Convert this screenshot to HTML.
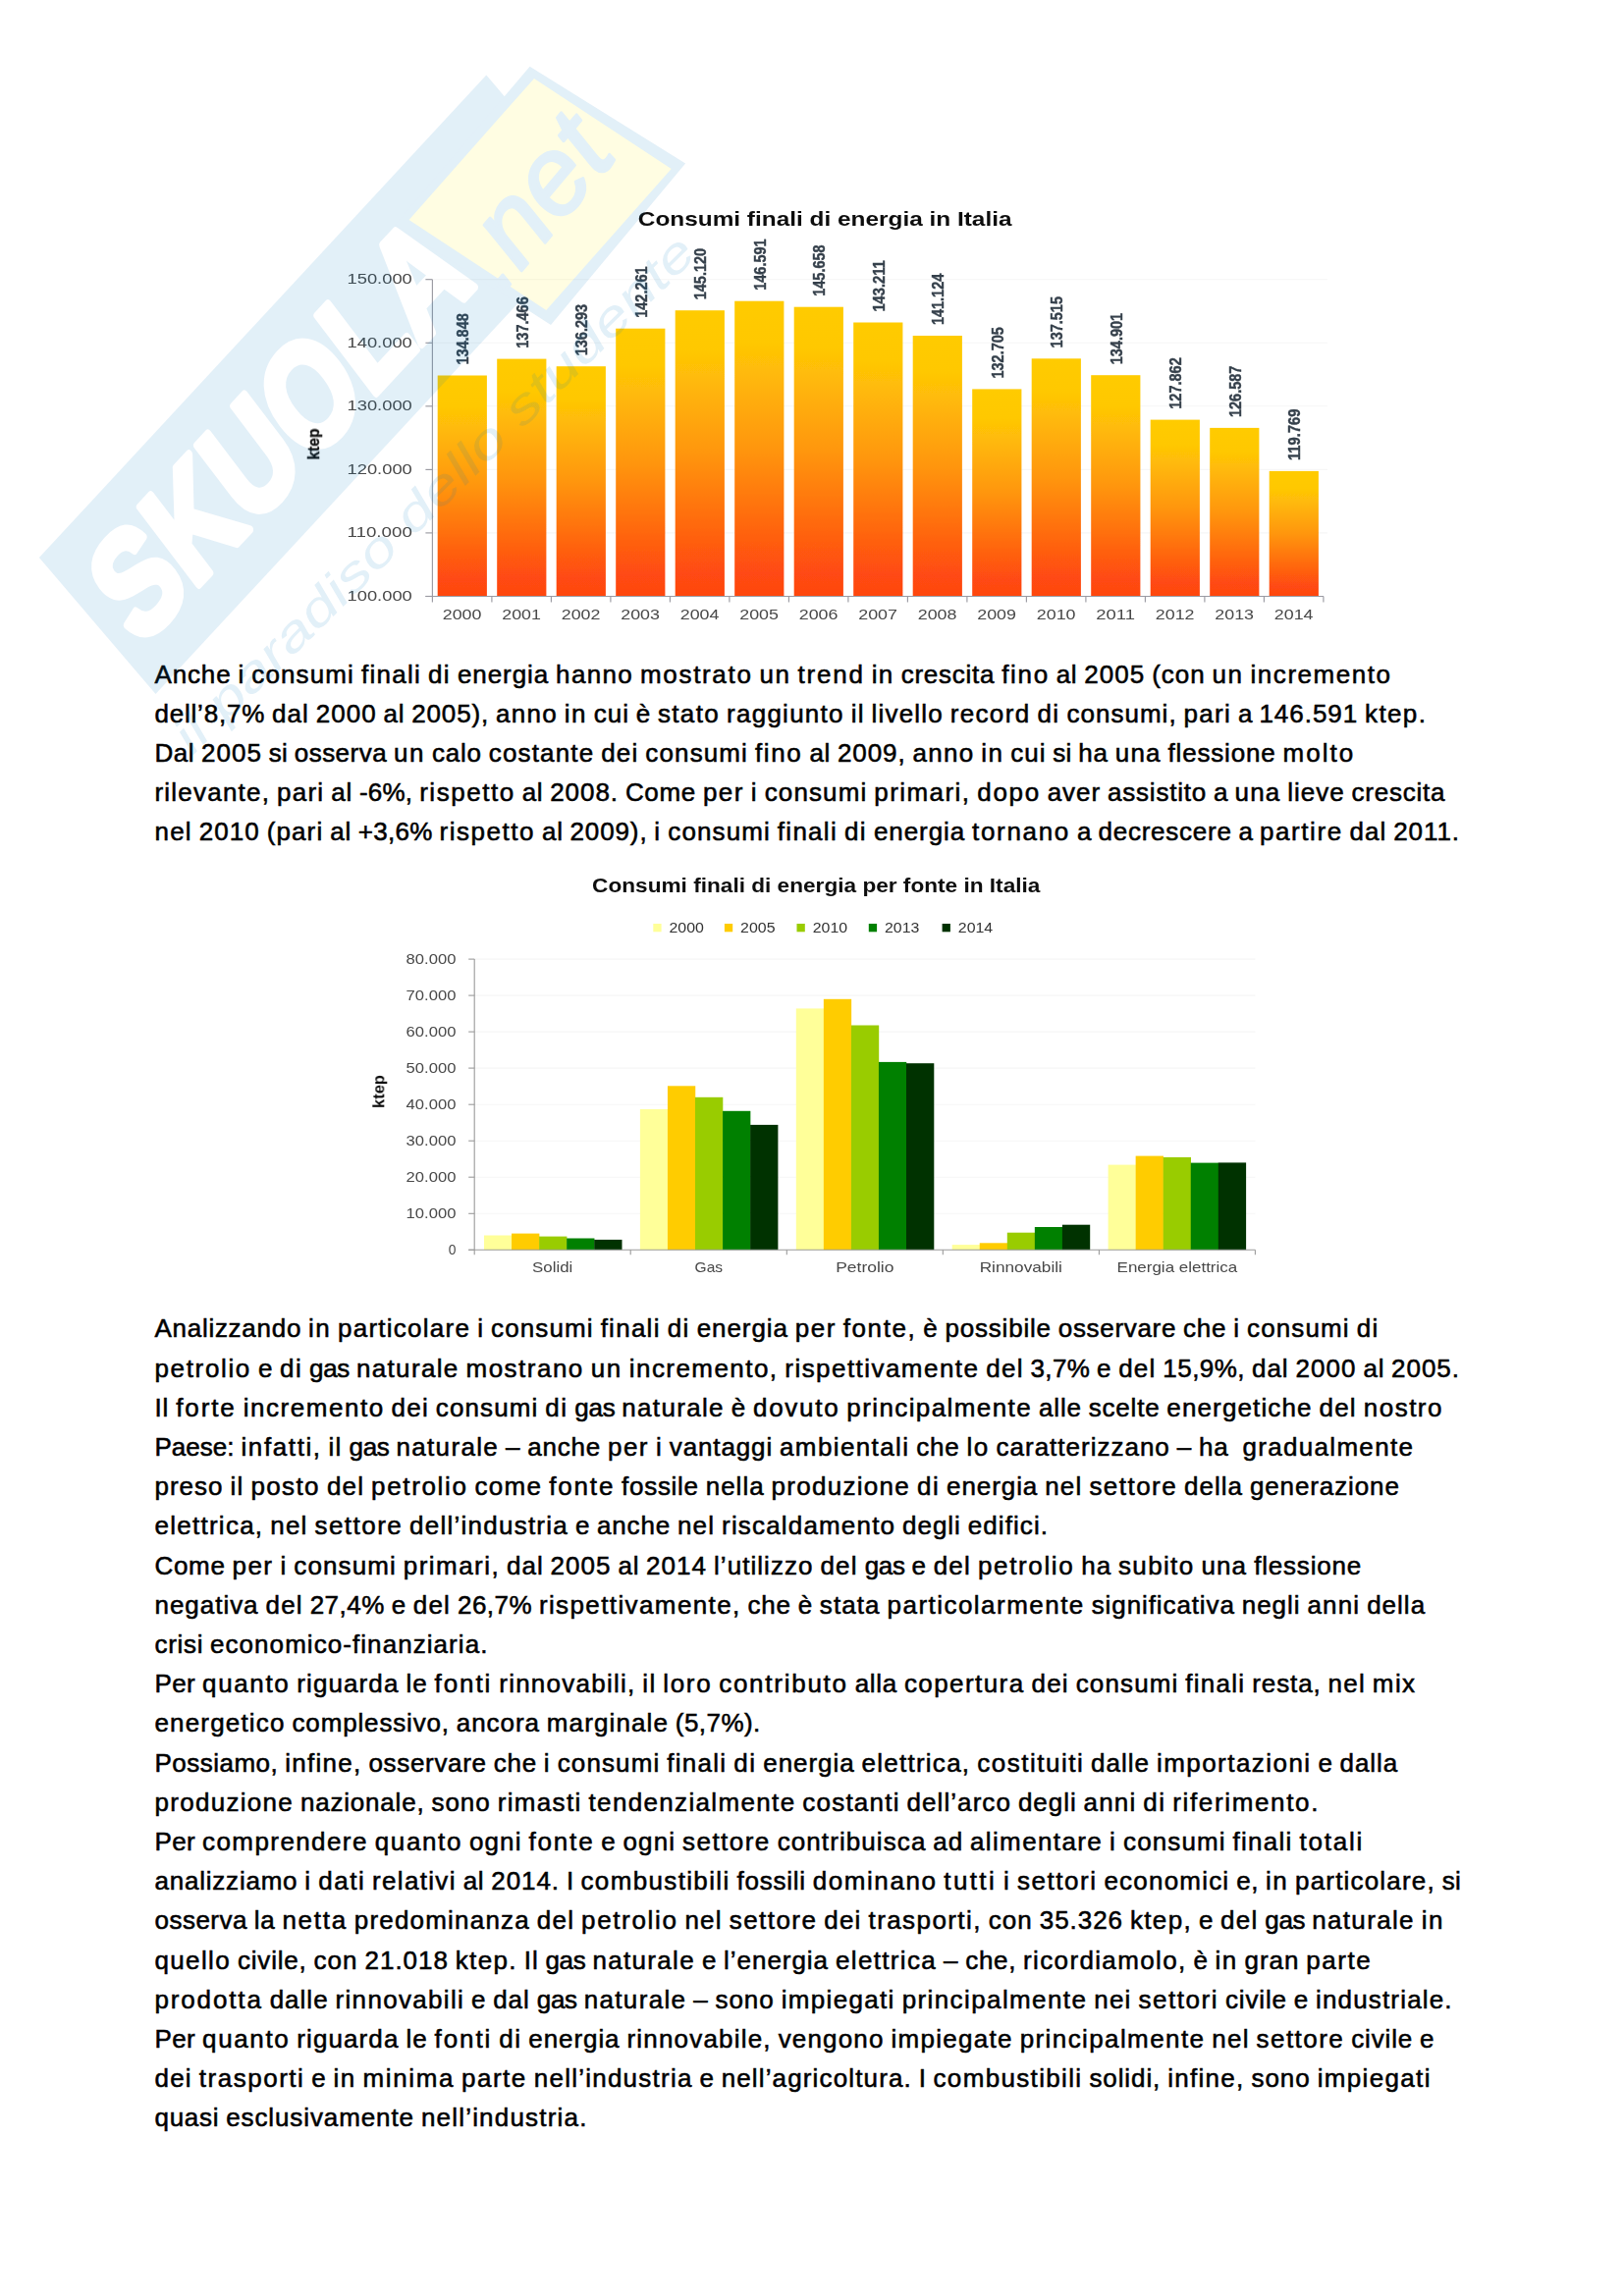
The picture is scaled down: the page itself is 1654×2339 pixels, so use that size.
<!DOCTYPE html>
<html lang="it">
<head>
<meta charset="utf-8">
<title>Consumi finali di energia in Italia</title>
<style>
html,body{margin:0;padding:0;background:#fff;}
body{width:1654px;height:2339px;position:relative;overflow:hidden;font-family:'Liberation Sans', sans-serif;}
.ln{position:absolute;left:157.1px;white-space:pre;font-size:26.0px;line-height:32.0px;height:32.0px;color:#000;word-spacing:-0.308px;-webkit-text-stroke:0.55px #000;}
.ln span{display:inline-block;text-indent:0.4px;}
svg{position:absolute;left:0;top:0;}
svg text{font-family:'Liberation Sans', sans-serif;}
</style>
</head>
<body>
<svg width="1654" height="2339" viewBox="0 0 1654 2339">
<defs>
<linearGradient id="gb" x1="0" y1="0" x2="0" y2="1">
<stop offset="0" stop-color="#ffcb05"/>
<stop offset="0.14" stop-color="#ffc805"/>
<stop offset="0.5" stop-color="#ff960e"/>
<stop offset="0.92" stop-color="#ff4a12"/>
<stop offset="1" stop-color="#ff4610"/>
</linearGradient>
<filter id="soft" x="-2%" y="-2%" width="104%" height="104%"><feGaussianBlur stdDeviation="0.7"/></filter>
</defs>
<g id="chart1" filter="url(#soft)">
<line x1="440.4" y1="542.9" x2="1352" y2="542.9" stroke="#f6f6f6" stroke-width="1.1"/>
<line x1="440.4" y1="478.4" x2="1352" y2="478.4" stroke="#f6f6f6" stroke-width="1.1"/>
<line x1="440.4" y1="413.8" x2="1352" y2="413.8" stroke="#f6f6f6" stroke-width="1.1"/>
<line x1="440.4" y1="349.3" x2="1352" y2="349.3" stroke="#f6f6f6" stroke-width="1.1"/>
<line x1="440.4" y1="284.7" x2="1352" y2="284.7" stroke="#f6f6f6" stroke-width="1.1"/>
<rect x="445.7" y="382.5" width="50.2" height="225.0" fill="url(#gb)"/>
<rect x="506.2" y="365.6" width="50.2" height="241.9" fill="url(#gb)"/>
<rect x="566.7" y="373.2" width="50.2" height="234.3" fill="url(#gb)"/>
<rect x="627.2" y="334.7" width="50.2" height="272.8" fill="url(#gb)"/>
<rect x="687.7" y="316.2" width="50.2" height="291.3" fill="url(#gb)"/>
<rect x="748.2" y="306.7" width="50.2" height="300.8" fill="url(#gb)"/>
<rect x="808.7" y="312.7" width="50.2" height="294.8" fill="url(#gb)"/>
<rect x="869.2" y="328.5" width="50.2" height="279.0" fill="url(#gb)"/>
<rect x="929.7" y="342.0" width="50.2" height="265.5" fill="url(#gb)"/>
<rect x="990.2" y="396.4" width="50.2" height="211.1" fill="url(#gb)"/>
<rect x="1050.7" y="365.3" width="50.2" height="242.2" fill="url(#gb)"/>
<rect x="1111.2" y="382.2" width="50.2" height="225.3" fill="url(#gb)"/>
<rect x="1171.7" y="427.6" width="50.2" height="179.9" fill="url(#gb)"/>
<rect x="1232.2" y="435.9" width="50.2" height="171.6" fill="url(#gb)"/>
<rect x="1292.7" y="479.9" width="50.2" height="127.6" fill="url(#gb)"/>
<line x1="440.4" y1="284.7" x2="440.4" y2="613.5" stroke="#9a9aa2" stroke-width="1.15"/>
<line x1="433.4" y1="607.5" x2="1348" y2="607.5" stroke="#9a9aa2" stroke-width="1.15"/>
<line x1="433.4" y1="607.5" x2="440.4" y2="607.5" stroke="#9a9aa2" stroke-width="1.15"/>
<text x="419.8" y="611.8" text-anchor="end" font-size="15" fill="#484848" textLength="66.3" lengthAdjust="spacingAndGlyphs">100.000</text>
<line x1="433.4" y1="542.9" x2="440.4" y2="542.9" stroke="#9a9aa2" stroke-width="1.15"/>
<text x="419.8" y="547.2" text-anchor="end" font-size="15" fill="#484848" textLength="66.3" lengthAdjust="spacingAndGlyphs">110.000</text>
<line x1="433.4" y1="478.4" x2="440.4" y2="478.4" stroke="#9a9aa2" stroke-width="1.15"/>
<text x="419.8" y="482.7" text-anchor="end" font-size="15" fill="#484848" textLength="66.3" lengthAdjust="spacingAndGlyphs">120.000</text>
<line x1="433.4" y1="413.8" x2="440.4" y2="413.8" stroke="#9a9aa2" stroke-width="1.15"/>
<text x="419.8" y="418.1" text-anchor="end" font-size="15" fill="#484848" textLength="66.3" lengthAdjust="spacingAndGlyphs">130.000</text>
<line x1="433.4" y1="349.3" x2="440.4" y2="349.3" stroke="#9a9aa2" stroke-width="1.15"/>
<text x="419.8" y="353.6" text-anchor="end" font-size="15" fill="#484848" textLength="66.3" lengthAdjust="spacingAndGlyphs">140.000</text>
<line x1="433.4" y1="284.7" x2="440.4" y2="284.7" stroke="#9a9aa2" stroke-width="1.15"/>
<text x="419.8" y="289.0" text-anchor="end" font-size="15" fill="#484848" textLength="66.3" lengthAdjust="spacingAndGlyphs">150.000</text>
<line x1="500.9" y1="607.5" x2="500.9" y2="613.5" stroke="#9a9aa2" stroke-width="1.15"/>
<line x1="561.4" y1="607.5" x2="561.4" y2="613.5" stroke="#9a9aa2" stroke-width="1.15"/>
<line x1="621.9" y1="607.5" x2="621.9" y2="613.5" stroke="#9a9aa2" stroke-width="1.15"/>
<line x1="682.4" y1="607.5" x2="682.4" y2="613.5" stroke="#9a9aa2" stroke-width="1.15"/>
<line x1="742.9" y1="607.5" x2="742.9" y2="613.5" stroke="#9a9aa2" stroke-width="1.15"/>
<line x1="803.4" y1="607.5" x2="803.4" y2="613.5" stroke="#9a9aa2" stroke-width="1.15"/>
<line x1="863.9" y1="607.5" x2="863.9" y2="613.5" stroke="#9a9aa2" stroke-width="1.15"/>
<line x1="924.4" y1="607.5" x2="924.4" y2="613.5" stroke="#9a9aa2" stroke-width="1.15"/>
<line x1="984.9" y1="607.5" x2="984.9" y2="613.5" stroke="#9a9aa2" stroke-width="1.15"/>
<line x1="1045.4" y1="607.5" x2="1045.4" y2="613.5" stroke="#9a9aa2" stroke-width="1.15"/>
<line x1="1105.9" y1="607.5" x2="1105.9" y2="613.5" stroke="#9a9aa2" stroke-width="1.15"/>
<line x1="1166.4" y1="607.5" x2="1166.4" y2="613.5" stroke="#9a9aa2" stroke-width="1.15"/>
<line x1="1226.9" y1="607.5" x2="1226.9" y2="613.5" stroke="#9a9aa2" stroke-width="1.15"/>
<line x1="1287.4" y1="607.5" x2="1287.4" y2="613.5" stroke="#9a9aa2" stroke-width="1.15"/>
<line x1="1347.9" y1="607.5" x2="1347.9" y2="613.5" stroke="#9a9aa2" stroke-width="1.15"/>
<text x="470.6" y="631.3" text-anchor="middle" font-size="14.6" fill="#484848" textLength="39.7" lengthAdjust="spacingAndGlyphs">2000</text>
<text x="531.1" y="631.3" text-anchor="middle" font-size="14.6" fill="#484848" textLength="39.7" lengthAdjust="spacingAndGlyphs">2001</text>
<text x="591.6" y="631.3" text-anchor="middle" font-size="14.6" fill="#484848" textLength="39.7" lengthAdjust="spacingAndGlyphs">2002</text>
<text x="652.1" y="631.3" text-anchor="middle" font-size="14.6" fill="#484848" textLength="39.7" lengthAdjust="spacingAndGlyphs">2003</text>
<text x="712.6" y="631.3" text-anchor="middle" font-size="14.6" fill="#484848" textLength="39.7" lengthAdjust="spacingAndGlyphs">2004</text>
<text x="773.1" y="631.3" text-anchor="middle" font-size="14.6" fill="#484848" textLength="39.7" lengthAdjust="spacingAndGlyphs">2005</text>
<text x="833.6" y="631.3" text-anchor="middle" font-size="14.6" fill="#484848" textLength="39.7" lengthAdjust="spacingAndGlyphs">2006</text>
<text x="894.1" y="631.3" text-anchor="middle" font-size="14.6" fill="#484848" textLength="39.7" lengthAdjust="spacingAndGlyphs">2007</text>
<text x="954.6" y="631.3" text-anchor="middle" font-size="14.6" fill="#484848" textLength="39.7" lengthAdjust="spacingAndGlyphs">2008</text>
<text x="1015.1" y="631.3" text-anchor="middle" font-size="14.6" fill="#484848" textLength="39.7" lengthAdjust="spacingAndGlyphs">2009</text>
<text x="1075.7" y="631.3" text-anchor="middle" font-size="14.6" fill="#484848" textLength="39.7" lengthAdjust="spacingAndGlyphs">2010</text>
<text x="1136.2" y="631.3" text-anchor="middle" font-size="14.6" fill="#484848" textLength="39.7" lengthAdjust="spacingAndGlyphs">2011</text>
<text x="1196.7" y="631.3" text-anchor="middle" font-size="14.6" fill="#484848" textLength="39.7" lengthAdjust="spacingAndGlyphs">2012</text>
<text x="1257.2" y="631.3" text-anchor="middle" font-size="14.6" fill="#484848" textLength="39.7" lengthAdjust="spacingAndGlyphs">2013</text>
<text x="1317.7" y="631.3" text-anchor="middle" font-size="14.6" fill="#484848" textLength="39.7" lengthAdjust="spacingAndGlyphs">2014</text>
<text transform="translate(477.2,371.6) scale(1.18,1) rotate(-90)" font-size="14.2" font-weight="bold" fill="#36414c" stroke="#36414c" stroke-width="0.35" textLength="52.4" lengthAdjust="spacingAndGlyphs">134.848</text>
<text transform="translate(537.7,354.7) scale(1.18,1) rotate(-90)" font-size="14.2" font-weight="bold" fill="#36414c" stroke="#36414c" stroke-width="0.35" textLength="52.4" lengthAdjust="spacingAndGlyphs">137.466</text>
<text transform="translate(598.2,362.3) scale(1.18,1) rotate(-90)" font-size="14.2" font-weight="bold" fill="#36414c" stroke="#36414c" stroke-width="0.35" textLength="52.4" lengthAdjust="spacingAndGlyphs">136.293</text>
<text transform="translate(658.7,323.8) scale(1.18,1) rotate(-90)" font-size="14.2" font-weight="bold" fill="#36414c" stroke="#36414c" stroke-width="0.35" textLength="52.4" lengthAdjust="spacingAndGlyphs">142.261</text>
<text transform="translate(719.2,305.3) scale(1.18,1) rotate(-90)" font-size="14.2" font-weight="bold" fill="#36414c" stroke="#36414c" stroke-width="0.35" textLength="52.4" lengthAdjust="spacingAndGlyphs">145.120</text>
<text transform="translate(779.7,295.8) scale(1.18,1) rotate(-90)" font-size="14.2" font-weight="bold" fill="#36414c" stroke="#36414c" stroke-width="0.35" textLength="52.4" lengthAdjust="spacingAndGlyphs">146.591</text>
<text transform="translate(840.2,301.8) scale(1.18,1) rotate(-90)" font-size="14.2" font-weight="bold" fill="#36414c" stroke="#36414c" stroke-width="0.35" textLength="52.4" lengthAdjust="spacingAndGlyphs">145.658</text>
<text transform="translate(900.7,317.6) scale(1.18,1) rotate(-90)" font-size="14.2" font-weight="bold" fill="#36414c" stroke="#36414c" stroke-width="0.35" textLength="52.4" lengthAdjust="spacingAndGlyphs">143.211</text>
<text transform="translate(961.2,331.1) scale(1.18,1) rotate(-90)" font-size="14.2" font-weight="bold" fill="#36414c" stroke="#36414c" stroke-width="0.35" textLength="52.4" lengthAdjust="spacingAndGlyphs">141.124</text>
<text transform="translate(1021.7,385.5) scale(1.18,1) rotate(-90)" font-size="14.2" font-weight="bold" fill="#36414c" stroke="#36414c" stroke-width="0.35" textLength="52.4" lengthAdjust="spacingAndGlyphs">132.705</text>
<text transform="translate(1082.2,354.4) scale(1.18,1) rotate(-90)" font-size="14.2" font-weight="bold" fill="#36414c" stroke="#36414c" stroke-width="0.35" textLength="52.4" lengthAdjust="spacingAndGlyphs">137.515</text>
<text transform="translate(1142.7,371.3) scale(1.18,1) rotate(-90)" font-size="14.2" font-weight="bold" fill="#36414c" stroke="#36414c" stroke-width="0.35" textLength="52.4" lengthAdjust="spacingAndGlyphs">134.901</text>
<text transform="translate(1203.2,416.7) scale(1.18,1) rotate(-90)" font-size="14.2" font-weight="bold" fill="#36414c" stroke="#36414c" stroke-width="0.35" textLength="52.4" lengthAdjust="spacingAndGlyphs">127.862</text>
<text transform="translate(1263.7,425.0) scale(1.18,1) rotate(-90)" font-size="14.2" font-weight="bold" fill="#36414c" stroke="#36414c" stroke-width="0.35" textLength="52.4" lengthAdjust="spacingAndGlyphs">126.587</text>
<text transform="translate(1324.2,469.0) scale(1.18,1) rotate(-90)" font-size="14.2" font-weight="bold" fill="#36414c" stroke="#36414c" stroke-width="0.35" textLength="52.4" lengthAdjust="spacingAndGlyphs">119.769</text>
<text x="649.8" y="229.6" font-size="21" font-weight="bold" fill="#111" textLength="380.7" lengthAdjust="spacingAndGlyphs">Consumi finali di energia in Italia</text>
<text transform="translate(325.2,468.5) scale(1.08,1) rotate(-90)" font-size="15.5" font-weight="bold" fill="#111" stroke="#111" stroke-width="0.3">ktep</text>
</g>
<g id="chart2" filter="url(#soft)">
<line x1="483.2" y1="1236.3" x2="1278.4" y2="1236.3" stroke="#f6f6f6" stroke-width="1.1"/>
<line x1="483.2" y1="1199.2" x2="1278.4" y2="1199.2" stroke="#f6f6f6" stroke-width="1.1"/>
<line x1="483.2" y1="1162.2" x2="1278.4" y2="1162.2" stroke="#f6f6f6" stroke-width="1.1"/>
<line x1="483.2" y1="1125.2" x2="1278.4" y2="1125.2" stroke="#f6f6f6" stroke-width="1.1"/>
<line x1="483.2" y1="1088.1" x2="1278.4" y2="1088.1" stroke="#f6f6f6" stroke-width="1.1"/>
<line x1="483.2" y1="1051.1" x2="1278.4" y2="1051.1" stroke="#f6f6f6" stroke-width="1.1"/>
<line x1="483.2" y1="1014.1" x2="1278.4" y2="1014.1" stroke="#f6f6f6" stroke-width="1.1"/>
<line x1="483.2" y1="977.1" x2="1278.4" y2="977.1" stroke="#f6f6f6" stroke-width="1.1"/>
<rect x="493.00" y="1258.5" width="28.3" height="14.8" fill="#ffff99"/>
<rect x="521.05" y="1256.6" width="28.3" height="16.7" fill="#ffcc00"/>
<rect x="549.10" y="1259.6" width="28.3" height="13.7" fill="#99cc00"/>
<rect x="577.15" y="1261.5" width="28.3" height="11.8" fill="#008000"/>
<rect x="605.20" y="1262.9" width="28.3" height="10.4" fill="#003300"/>
<rect x="651.90" y="1130.0" width="28.3" height="143.3" fill="#ffff99"/>
<rect x="679.95" y="1106.3" width="28.3" height="167.0" fill="#ffcc00"/>
<rect x="708.00" y="1117.8" width="28.3" height="155.5" fill="#99cc00"/>
<rect x="736.05" y="1131.8" width="28.3" height="141.5" fill="#008000"/>
<rect x="764.10" y="1145.9" width="28.3" height="127.4" fill="#003300"/>
<rect x="810.80" y="1027.4" width="28.3" height="245.9" fill="#ffff99"/>
<rect x="838.85" y="1017.8" width="28.3" height="255.5" fill="#ffcc00"/>
<rect x="866.90" y="1044.5" width="28.3" height="228.8" fill="#99cc00"/>
<rect x="894.95" y="1081.9" width="28.3" height="191.4" fill="#008000"/>
<rect x="923.00" y="1083.2" width="28.3" height="190.1" fill="#003300"/>
<rect x="969.70" y="1268.1" width="28.3" height="5.2" fill="#ffff99"/>
<rect x="997.75" y="1266.3" width="28.3" height="7.0" fill="#ffcc00"/>
<rect x="1025.80" y="1255.7" width="28.3" height="17.6" fill="#99cc00"/>
<rect x="1053.85" y="1250.0" width="28.3" height="23.3" fill="#008000"/>
<rect x="1081.90" y="1247.7" width="28.3" height="25.6" fill="#003300"/>
<rect x="1128.60" y="1186.6" width="28.3" height="86.7" fill="#ffff99"/>
<rect x="1156.65" y="1177.6" width="28.3" height="95.7" fill="#ffcc00"/>
<rect x="1184.70" y="1178.9" width="28.3" height="94.4" fill="#99cc00"/>
<rect x="1212.75" y="1184.6" width="28.3" height="88.7" fill="#008000"/>
<rect x="1240.80" y="1184.4" width="28.3" height="88.9" fill="#003300"/>
<line x1="483.2" y1="977.1" x2="483.2" y2="1278.3" stroke="#9a9a9a" stroke-width="1.1"/>
<line x1="477.2" y1="1273.3" x2="1278.4" y2="1273.3" stroke="#9a9a9a" stroke-width="1.1"/>
<line x1="477.2" y1="1273.3" x2="483.2" y2="1273.3" stroke="#9a9a9a" stroke-width="1.1"/>
<text x="464.4" y="1277.8" text-anchor="end" font-size="15" fill="#484848" textLength="7.7" lengthAdjust="spacingAndGlyphs">0</text>
<line x1="477.2" y1="1236.3" x2="483.2" y2="1236.3" stroke="#9a9a9a" stroke-width="1.1"/>
<text x="464.4" y="1240.8" text-anchor="end" font-size="15" fill="#484848" textLength="50.8" lengthAdjust="spacingAndGlyphs">10.000</text>
<line x1="477.2" y1="1199.2" x2="483.2" y2="1199.2" stroke="#9a9a9a" stroke-width="1.1"/>
<text x="464.4" y="1203.7" text-anchor="end" font-size="15" fill="#484848" textLength="50.8" lengthAdjust="spacingAndGlyphs">20.000</text>
<line x1="477.2" y1="1162.2" x2="483.2" y2="1162.2" stroke="#9a9a9a" stroke-width="1.1"/>
<text x="464.4" y="1166.7" text-anchor="end" font-size="15" fill="#484848" textLength="50.8" lengthAdjust="spacingAndGlyphs">30.000</text>
<line x1="477.2" y1="1125.2" x2="483.2" y2="1125.2" stroke="#9a9a9a" stroke-width="1.1"/>
<text x="464.4" y="1129.7" text-anchor="end" font-size="15" fill="#484848" textLength="50.8" lengthAdjust="spacingAndGlyphs">40.000</text>
<line x1="477.2" y1="1088.1" x2="483.2" y2="1088.1" stroke="#9a9a9a" stroke-width="1.1"/>
<text x="464.4" y="1092.6" text-anchor="end" font-size="15" fill="#484848" textLength="50.8" lengthAdjust="spacingAndGlyphs">50.000</text>
<line x1="477.2" y1="1051.1" x2="483.2" y2="1051.1" stroke="#9a9a9a" stroke-width="1.1"/>
<text x="464.4" y="1055.6" text-anchor="end" font-size="15" fill="#484848" textLength="50.8" lengthAdjust="spacingAndGlyphs">60.000</text>
<line x1="477.2" y1="1014.1" x2="483.2" y2="1014.1" stroke="#9a9a9a" stroke-width="1.1"/>
<text x="464.4" y="1018.6" text-anchor="end" font-size="15" fill="#484848" textLength="50.8" lengthAdjust="spacingAndGlyphs">70.000</text>
<line x1="477.2" y1="977.1" x2="483.2" y2="977.1" stroke="#9a9a9a" stroke-width="1.1"/>
<text x="464.4" y="981.6" text-anchor="end" font-size="15" fill="#484848" textLength="50.8" lengthAdjust="spacingAndGlyphs">80.000</text>
<line x1="642.2" y1="1273.3" x2="642.2" y2="1278.3" stroke="#9a9a9a" stroke-width="1.1"/>
<line x1="801.3" y1="1273.3" x2="801.3" y2="1278.3" stroke="#9a9a9a" stroke-width="1.1"/>
<line x1="960.3" y1="1273.3" x2="960.3" y2="1278.3" stroke="#9a9a9a" stroke-width="1.1"/>
<line x1="1119.4" y1="1273.3" x2="1119.4" y2="1278.3" stroke="#9a9a9a" stroke-width="1.1"/>
<line x1="1278.4" y1="1273.3" x2="1278.4" y2="1278.3" stroke="#9a9a9a" stroke-width="1.1"/>
<text x="562.7" y="1296.3" text-anchor="middle" font-size="15" fill="#484848" textLength="41.2" lengthAdjust="spacingAndGlyphs">Solidi</text>
<text x="721.8" y="1296.3" text-anchor="middle" font-size="15" fill="#484848" textLength="28.5" lengthAdjust="spacingAndGlyphs">Gas</text>
<text x="880.8" y="1296.3" text-anchor="middle" font-size="15" fill="#484848" textLength="59.2" lengthAdjust="spacingAndGlyphs">Petrolio</text>
<text x="1039.8" y="1296.3" text-anchor="middle" font-size="15" fill="#484848" textLength="84.2" lengthAdjust="spacingAndGlyphs">Rinnovabili</text>
<text x="1198.9" y="1296.3" text-anchor="middle" font-size="15" fill="#484848" textLength="122.6" lengthAdjust="spacingAndGlyphs">Energia elettrica</text>
<rect x="665.3" y="941" width="8.3" height="8.3" fill="#ffff99"/>
<text x="681.5" y="950.2" font-size="15" fill="#333" textLength="35.4" lengthAdjust="spacingAndGlyphs">2000</text>
<rect x="737.9" y="941" width="8.3" height="8.3" fill="#ffcc00"/>
<text x="754.1" y="950.2" font-size="15" fill="#333" textLength="35.4" lengthAdjust="spacingAndGlyphs">2005</text>
<rect x="811.5" y="941" width="8.3" height="8.3" fill="#99cc00"/>
<text x="827.7" y="950.2" font-size="15" fill="#333" textLength="35.4" lengthAdjust="spacingAndGlyphs">2010</text>
<rect x="884.8" y="941" width="8.3" height="8.3" fill="#008000"/>
<text x="901.0" y="950.2" font-size="15" fill="#333" textLength="35.4" lengthAdjust="spacingAndGlyphs">2013</text>
<rect x="959.6" y="941" width="8.3" height="8.3" fill="#003300"/>
<text x="975.8" y="950.2" font-size="15" fill="#333" textLength="35.4" lengthAdjust="spacingAndGlyphs">2014</text>
<text x="603.1" y="909.2" font-size="20" font-weight="bold" fill="#111" textLength="456.3" lengthAdjust="spacingAndGlyphs">Consumi finali di energia per fonte in Italia</text>
<text transform="translate(391.3,1129) rotate(-90)" font-size="16.5" font-weight="bold" fill="#111">ktep</text>
</g>
</svg>
<div id="text">
<div class="ln" style="top:670.89px"><span style="width:78.00px;letter-spacing:0.86px">Anche</span> <span style="width:7.02px;letter-spacing:1.24px">i</span> <span style="width:104.63px;letter-spacing:1.12px">consumi</span> <span style="width:61.12px;letter-spacing:1.27px">finali</span> <span style="width:23.09px;letter-spacing:1.43px">di</span> <span style="width:93.25px;letter-spacing:0.93px">energia</span> <span style="width:79.00px;letter-spacing:1.34px">hanno</span> <span style="width:114.47px;letter-spacing:1.67px">mostrato</span> <span style="width:32.14px;letter-spacing:1.61px">un</span> <span style="width:68.27px;letter-spacing:1.80px">trend</span> <span style="width:23.09px;letter-spacing:1.43px">in</span> <span style="width:95.64px;letter-spacing:0.76px">crescita</span> <span style="width:48.56px;letter-spacing:1.66px">fino</span> <span style="width:21.67px;letter-spacing:0.72px">al</span> <span style="width:62.02px;letter-spacing:1.04px">2005</span> <span style="width:54.41px;letter-spacing:0.96px">(con</span> <span style="width:32.14px;letter-spacing:1.61px">un</span> <span style="width:144.02px;letter-spacing:1.54px">incremento</span></div>
<div class="ln" style="top:711.04px"><span style="width:112.59px;letter-spacing:0.79px">dell’8,7%</span> <span style="width:37.74px;letter-spacing:1.02px">dal</span> <span style="width:62.02px;letter-spacing:1.04px">2000</span> <span style="width:21.67px;letter-spacing:0.72px">al</span> <span style="width:78.92px;letter-spacing:0.87px">2005),</span> <span style="width:62.93px;letter-spacing:1.27px">anno</span> <span style="width:23.09px;letter-spacing:1.43px">in</span> <span style="width:36.03px;letter-spacing:0.93px">cui</span> <span style="width:15.22px;letter-spacing:0.76px">è</span> <span style="width:63.24px;letter-spacing:1.37px">stato</span> <span style="width:119.66px;letter-spacing:1.25px">raggiunto</span> <span style="width:14.04px;letter-spacing:1.24px">il</span> <span style="width:73.25px;letter-spacing:1.17px">livello</span> <span style="width:81.69px;letter-spacing:1.33px">record</span> <span style="width:23.09px;letter-spacing:1.43px">di</span> <span style="width:112.26px;letter-spacing:1.03px">consumi,</span> <span style="width:48.41px;letter-spacing:1.26px">pari</span> <span style="width:14.65px;letter-spacing:0.19px">a</span> <span style="width:100.75px;letter-spacing:0.97px">146.591</span> <span style="width:63.17px;letter-spacing:1.36px">ktep.</span></div>
<div class="ln" style="top:751.19px"><span style="width:40.49px;letter-spacing:0.49px">Dal</span> <span style="width:62.02px;letter-spacing:1.04px">2005</span> <span style="width:18.98px;letter-spacing:0.10px">si</span> <span style="width:94.41px;letter-spacing:0.48px">osserva</span> <span style="width:32.14px;letter-spacing:1.61px">un</span> <span style="width:50.74px;letter-spacing:0.76px">calo</span> <span style="width:107.47px;letter-spacing:1.15px">costante</span> <span style="width:38.31px;letter-spacing:1.21px">dei</span> <span style="width:104.63px;letter-spacing:1.12px">consumi</span> <span style="width:48.56px;letter-spacing:1.66px">fino</span> <span style="width:21.67px;letter-spacing:0.72px">al</span> <span style="width:69.65px;letter-spacing:0.92px">2009,</span> <span style="width:62.93px;letter-spacing:1.27px">anno</span> <span style="width:23.09px;letter-spacing:1.43px">in</span> <span style="width:36.03px;letter-spacing:0.93px">cui</span> <span style="width:18.98px;letter-spacing:0.10px">si</span> <span style="width:30.72px;letter-spacing:0.90px">ha</span> <span style="width:46.80px;letter-spacing:1.14px">una</span> <span style="width:109.95px;letter-spacing:0.81px">flessione</span> <span style="width:73.97px;letter-spacing:2.08px">molto</span></div>
<div class="ln" style="top:791.34px"><span style="width:117.57px;letter-spacing:1.21px">rilevante,</span> <span style="width:48.41px;letter-spacing:1.26px">pari</span> <span style="width:21.67px;letter-spacing:0.72px">al</span> <span style="width:54.37px;letter-spacing:0.23px">-6%,</span> <span style="width:97.57px;letter-spacing:1.54px">rispetto</span> <span style="width:21.67px;letter-spacing:0.72px">al</span> <span style="width:69.74px;letter-spacing:0.94px">2008.</span> <span style="width:72.10px;letter-spacing:0.69px">Come</span> <span style="width:41.96px;letter-spacing:1.46px">per</span> <span style="width:7.02px;letter-spacing:1.24px">i</span> <span style="width:104.63px;letter-spacing:1.12px">consumi</span> <span style="width:98.16px;letter-spacing:1.44px">primari,</span> <span style="width:64.41px;letter-spacing:1.64px">dopo</span> <span style="width:54.35px;letter-spacing:0.94px">aver</span> <span style="width:101.21px;letter-spacing:0.81px">assistito</span> <span style="width:14.65px;letter-spacing:0.19px">a</span> <span style="width:46.80px;letter-spacing:1.14px">una</span> <span style="width:58.30px;letter-spacing:0.96px">lieve</span> <span style="width:95.64px;letter-spacing:0.76px">crescita</span></div>
<div class="ln" style="top:831.49px"><span style="width:38.31px;letter-spacing:1.21px">nel</span> <span style="width:62.02px;letter-spacing:1.04px">2010</span> <span style="width:57.68px;letter-spacing:1.13px">(pari</span> <span style="width:21.67px;letter-spacing:0.72px">al</span> <span style="width:75.74px;letter-spacing:0.26px">+3,6%</span> <span style="width:97.57px;letter-spacing:1.54px">rispetto</span> <span style="width:21.67px;letter-spacing:0.72px">al</span> <span style="width:78.92px;letter-spacing:0.87px">2009),</span> <span style="width:7.02px;letter-spacing:1.24px">i</span> <span style="width:104.63px;letter-spacing:1.12px">consumi</span> <span style="width:61.12px;letter-spacing:1.27px">finali</span> <span style="width:23.09px;letter-spacing:1.43px">di</span> <span style="width:93.25px;letter-spacing:0.93px">energia</span> <span style="width:99.97px;letter-spacing:1.68px">tornano</span> <span style="width:14.65px;letter-spacing:0.19px">a</span> <span style="width:136.12px;letter-spacing:0.75px">decrescere</span> <span style="width:14.65px;letter-spacing:0.19px">a</span> <span style="width:84.54px;letter-spacing:1.55px">partire</span> <span style="width:37.74px;letter-spacing:1.02px">dal</span> <span style="width:69.74px;letter-spacing:0.94px">2011.</span></div>
<div class="ln" style="top:1337.39px"><span style="width:149.56px;letter-spacing:0.72px">Analizzando</span> <span style="width:23.09px;letter-spacing:1.43px">in</span> <span style="width:135.28px;letter-spacing:1.26px">particolare</span> <span style="width:7.02px;letter-spacing:1.24px">i</span> <span style="width:104.63px;letter-spacing:1.12px">consumi</span> <span style="width:61.12px;letter-spacing:1.27px">finali</span> <span style="width:23.09px;letter-spacing:1.43px">di</span> <span style="width:93.25px;letter-spacing:0.93px">energia</span> <span style="width:41.96px;letter-spacing:1.46px">per</span> <span style="width:74.64px;letter-spacing:1.60px">fonte,</span> <span style="width:15.22px;letter-spacing:0.76px">è</span> <span style="width:108.48px;letter-spacing:0.81px">possibile</span> <span style="width:120.30px;letter-spacing:0.68px">osservare</span> <span style="width:44.23px;letter-spacing:0.77px">che</span> <span style="width:7.02px;letter-spacing:1.24px">i</span> <span style="width:104.63px;letter-spacing:1.12px">consumi</span> <span style="width:23.09px;letter-spacing:1.43px">di</span></div>
<div class="ln" style="top:1377.59px"><span style="width:98.51px;letter-spacing:1.65px">petrolio</span> <span style="width:15.22px;letter-spacing:0.76px">e</span> <span style="width:23.09px;letter-spacing:1.43px">di</span> <span style="width:41.02px;letter-spacing:-0.30px">gas</span> <span style="width:104.60px;letter-spacing:1.33px">naturale</span> <span style="width:120.30px;letter-spacing:1.49px">mostrano</span> <span style="width:32.14px;letter-spacing:1.61px">un</span> <span style="width:151.65px;letter-spacing:1.44px">incremento,</span> <span style="width:198.12px;letter-spacing:1.45px">rispettivamente</span> <span style="width:38.31px;letter-spacing:1.21px">del</span> <span style="width:60.51px;letter-spacing:0.31px">3,7%</span> <span style="width:15.22px;letter-spacing:0.76px">e</span> <span style="width:38.31px;letter-spacing:1.21px">del</span> <span style="width:83.64px;letter-spacing:0.45px">15,9%,</span> <span style="width:37.74px;letter-spacing:1.02px">dal</span> <span style="width:62.02px;letter-spacing:1.04px">2000</span> <span style="width:21.67px;letter-spacing:0.72px">al</span> <span style="width:69.74px;letter-spacing:0.94px">2005.</span></div>
<div class="ln" style="top:1417.79px"><span style="width:14.73px;letter-spacing:0.86px">Il</span> <span style="width:61.60px;letter-spacing:1.91px">forte</span> <span style="width:144.02px;letter-spacing:1.54px">incremento</span> <span style="width:38.31px;letter-spacing:1.21px">dei</span> <span style="width:104.63px;letter-spacing:1.12px">consumi</span> <span style="width:23.09px;letter-spacing:1.43px">di</span> <span style="width:41.02px;letter-spacing:-0.30px">gas</span> <span style="width:104.60px;letter-spacing:1.33px">naturale</span> <span style="width:15.22px;letter-spacing:0.76px">è</span> <span style="width:88.47px;letter-spacing:1.73px">dovuto</span> <span style="width:188.72px;letter-spacing:1.40px">principalmente</span> <span style="width:43.91px;letter-spacing:0.86px">alle</span> <span style="width:72.61px;letter-spacing:0.78px">scelte</span> <span style="width:148.29px;letter-spacing:1.13px">energetiche</span> <span style="width:38.31px;letter-spacing:1.21px">del</span> <span style="width:81.21px;letter-spacing:1.49px">nostro</span></div>
<div class="ln" style="top:1457.99px"><span style="width:81.05px;letter-spacing:0.02px">Paese:</span> <span style="width:82.23px;letter-spacing:1.61px">infatti,</span> <span style="width:14.04px;letter-spacing:1.24px">il</span> <span style="width:41.02px;letter-spacing:-0.30px">gas</span> <span style="width:104.60px;letter-spacing:1.33px">naturale</span> <span style="width:15.24px;letter-spacing:0.78px">–</span> <span style="width:74.95px;letter-spacing:0.82px">anche</span> <span style="width:41.96px;letter-spacing:1.46px">per</span> <span style="width:7.02px;letter-spacing:1.24px">i</span> <span style="width:105.26px;letter-spacing:0.87px">vantaggi</span> <span style="width:132.41px;letter-spacing:1.39px">ambientali</span> <span style="width:44.23px;letter-spacing:0.77px">che</span> <span style="width:23.15px;letter-spacing:1.46px">lo</span> <span style="width:177.33px;letter-spacing:1.00px">caratterizzano</span> <span style="width:15.24px;letter-spacing:0.78px">–</span> <span style="width:30.72px;letter-spacing:0.90px">ha</span>  <span style="width:174.73px;letter-spacing:1.31px">gradualmente</span></div>
<div class="ln" style="top:1498.19px"><span style="width:70.05px;letter-spacing:1.00px">preso</span> <span style="width:14.04px;letter-spacing:1.24px">il</span> <span style="width:70.55px;letter-spacing:1.39px">posto</span> <span style="width:38.31px;letter-spacing:1.21px">del</span> <span style="width:98.51px;letter-spacing:1.65px">petrolio</span> <span style="width:68.72px;letter-spacing:1.29px">come</span> <span style="width:67.01px;letter-spacing:1.84px">fonte</span> <span style="width:78.66px;letter-spacing:0.71px">fossile</span> <span style="width:59.99px;letter-spacing:1.01px">nella</span> <span style="width:141.54px;letter-spacing:1.29px">produzione</span> <span style="width:23.09px;letter-spacing:1.43px">di</span> <span style="width:93.25px;letter-spacing:0.93px">energia</span> <span style="width:38.31px;letter-spacing:1.21px">nel</span> <span style="width:89.69px;letter-spacing:1.46px">settore</span> <span style="width:59.99px;letter-spacing:1.01px">della</span> <span style="width:152.76px;letter-spacing:0.88px">generazione</span></div>
<div class="ln" style="top:1538.39px"><span style="width:110.86px;letter-spacing:1.26px">elettrica,</span> <span style="width:38.31px;letter-spacing:1.21px">nel</span> <span style="width:89.69px;letter-spacing:1.46px">settore</span> <span style="width:161.87px;letter-spacing:1.24px">dell’industria</span> <span style="width:15.22px;letter-spacing:0.76px">e</span> <span style="width:74.95px;letter-spacing:0.82px">anche</span> <span style="width:38.31px;letter-spacing:1.21px">nel</span> <span style="width:177.09px;letter-spacing:1.17px">riscaldamento</span> <span style="width:59.73px;letter-spacing:0.96px">degli</span> <span style="width:82.35px;letter-spacing:1.08px">edifici.</span></div>
<div class="ln" style="top:1578.59px"><span style="width:72.10px;letter-spacing:0.69px">Come</span> <span style="width:41.96px;letter-spacing:1.46px">per</span> <span style="width:7.02px;letter-spacing:1.24px">i</span> <span style="width:104.63px;letter-spacing:1.12px">consumi</span> <span style="width:98.16px;letter-spacing:1.44px">primari,</span> <span style="width:37.74px;letter-spacing:1.02px">dal</span> <span style="width:62.02px;letter-spacing:1.04px">2005</span> <span style="width:21.67px;letter-spacing:0.72px">al</span> <span style="width:62.02px;letter-spacing:1.04px">2014</span> <span style="width:101.45px;letter-spacing:1.04px">l’utilizzo</span> <span style="width:38.31px;letter-spacing:1.21px">del</span> <span style="width:41.02px;letter-spacing:-0.30px">gas</span> <span style="width:15.22px;letter-spacing:0.76px">e</span> <span style="width:38.31px;letter-spacing:1.21px">del</span> <span style="width:98.51px;letter-spacing:1.65px">petrolio</span> <span style="width:30.72px;letter-spacing:0.90px">ha</span> <span style="width:77.51px;letter-spacing:1.35px">subito</span> <span style="width:46.80px;letter-spacing:1.14px">una</span> <span style="width:109.95px;letter-spacing:0.81px">flessione</span></div>
<div class="ln" style="top:1618.79px"><span style="width:106.08px;letter-spacing:0.97px">negativa</span> <span style="width:38.31px;letter-spacing:1.21px">del</span> <span style="width:76.01px;letter-spacing:0.46px">27,4%</span> <span style="width:15.22px;letter-spacing:0.76px">e</span> <span style="width:38.31px;letter-spacing:1.21px">del</span> <span style="width:76.01px;letter-spacing:0.46px">26,7%</span> <span style="width:205.75px;letter-spacing:1.39px">rispettivamente,</span> <span style="width:44.23px;letter-spacing:0.77px">che</span> <span style="width:15.22px;letter-spacing:0.76px">è</span> <span style="width:61.76px;letter-spacing:1.08px">stata</span> <span style="width:201.25px;letter-spacing:1.47px">particolarmente</span> <span style="width:146.15px;letter-spacing:0.90px">significativa</span> <span style="width:59.73px;letter-spacing:0.96px">negli</span> <span style="width:53.82px;letter-spacing:1.17px">anni</span> <span style="width:59.99px;letter-spacing:1.01px">della</span></div>
<div class="ln" style="top:1658.99px"><span style="width:49.60px;letter-spacing:0.68px">crisi</span> <span style="width:283.35px;letter-spacing:1.06px">economico-finanziaria.</span></div>
<div class="ln" style="top:1699.19px"><span style="width:41.69px;letter-spacing:0.41px">Per</span> <span style="width:89.25px;letter-spacing:1.62px">quanto</span> <span style="width:104.20px;letter-spacing:1.10px">riguarda</span> <span style="width:22.24px;letter-spacing:1.00px">le</span> <span style="width:58.81px;letter-spacing:1.93px">fonti</span> <span style="width:139.19px;letter-spacing:1.24px">rinnovabili,</span> <span style="width:14.04px;letter-spacing:1.24px">il</span> <span style="width:49.95px;letter-spacing:1.65px">loro</span> <span style="width:131.59px;letter-spacing:1.74px">contributo</span> <span style="width:43.35px;letter-spacing:0.72px">alla</span> <span style="width:122.66px;letter-spacing:1.42px">copertura</span> <span style="width:38.31px;letter-spacing:1.21px">dei</span> <span style="width:104.63px;letter-spacing:1.12px">consumi</span> <span style="width:61.12px;letter-spacing:1.27px">finali</span> <span style="width:70.38px;letter-spacing:0.89px">resta,</span> <span style="width:38.31px;letter-spacing:1.21px">nel</span> <span style="width:44.71px;letter-spacing:1.42px">mix</span></div>
<div class="ln" style="top:1739.39px"><span style="width:133.13px;letter-spacing:1.17px">energetico</span> <span style="width:160.34px;letter-spacing:0.84px">complessivo,</span> <span style="width:85.11px;letter-spacing:0.94px">ancora</span> <span style="width:124.14px;letter-spacing:1.11px">marginale</span> <span style="width:86.78px;letter-spacing:0.43px">(5,7%).</span></div>
<div class="ln" style="top:1779.59px"><span style="width:125.74px;letter-spacing:0.48px">Possiamo,</span> <span style="width:78.37px;letter-spacing:1.28px">infine,</span> <span style="width:120.30px;letter-spacing:0.68px">osservare</span> <span style="width:44.23px;letter-spacing:0.77px">che</span> <span style="width:7.02px;letter-spacing:1.24px">i</span> <span style="width:104.63px;letter-spacing:1.12px">consumi</span> <span style="width:61.12px;letter-spacing:1.27px">finali</span> <span style="width:23.09px;letter-spacing:1.43px">di</span> <span style="width:93.25px;letter-spacing:0.93px">energia</span> <span style="width:110.86px;letter-spacing:1.26px">elettrica,</span> <span style="width:108.90px;letter-spacing:1.50px">costituiti</span> <span style="width:59.99px;letter-spacing:1.01px">dalle</span> <span style="width:157.55px;letter-spacing:1.45px">importazioni</span> <span style="width:15.22px;letter-spacing:0.76px">e</span> <span style="width:59.42px;letter-spacing:0.90px">dalla</span></div>
<div class="ln" style="top:1819.79px"><span style="width:141.54px;letter-spacing:1.29px">produzione</span> <span style="width:126.56px;letter-spacing:0.80px">nazionale,</span> <span style="width:60.30px;letter-spacing:0.98px">sono</span> <span style="width:86.00px;letter-spacing:1.35px">rimasti</span> <span style="width:210.87px;letter-spacing:1.34px">tendenzialmente</span> <span style="width:99.27px;letter-spacing:1.21px">costanti</span> <span style="width:106.47px;letter-spacing:1.07px">dell’arco</span> <span style="width:59.73px;letter-spacing:0.96px">degli</span> <span style="width:53.82px;letter-spacing:1.17px">anni</span> <span style="width:23.09px;letter-spacing:1.43px">di</span> <span style="width:149.75px;letter-spacing:1.64px">riferimento.</span></div>
<div class="ln" style="top:1859.99px"><span style="width:41.69px;letter-spacing:0.41px">Per</span> <span style="width:168.71px;letter-spacing:1.41px">comprendere</span> <span style="width:89.25px;letter-spacing:1.62px">quanto</span> <span style="width:53.62px;letter-spacing:1.12px">ogni</span> <span style="width:67.01px;letter-spacing:1.84px">fonte</span> <span style="width:15.22px;letter-spacing:0.76px">e</span> <span style="width:53.62px;letter-spacing:1.12px">ogni</span> <span style="width:89.69px;letter-spacing:1.46px">settore</span> <span style="width:151.78px;letter-spacing:1.09px">contribuisca</span> <span style="width:30.72px;letter-spacing:0.90px">ad</span> <span style="width:135.21px;letter-spacing:1.38px">alimentare</span> <span style="width:7.02px;letter-spacing:1.24px">i</span> <span style="width:104.63px;letter-spacing:1.12px">consumi</span> <span style="width:61.12px;letter-spacing:1.27px">finali</span> <span style="width:65.32px;letter-spacing:1.73px">totali</span></div>
<div class="ln" style="top:1900.19px"><span style="width:145.83px;letter-spacing:0.78px">analizziamo</span> <span style="width:7.02px;letter-spacing:1.24px">i</span> <span style="width:47.99px;letter-spacing:1.52px">dati</span> <span style="width:85.66px;letter-spacing:1.32px">relativi</span> <span style="width:21.67px;letter-spacing:0.72px">al</span> <span style="width:69.74px;letter-spacing:0.94px">2014.</span> <span style="width:7.71px;letter-spacing:0.48px">I</span> <span style="width:152.01px;letter-spacing:1.35px">combustibili</span> <span style="width:70.46px;letter-spacing:0.78px">fossili</span> <span style="width:126.59px;letter-spacing:1.55px">dominano</span> <span style="width:53.83px;letter-spacing:2.38px">tutti</span> <span style="width:7.02px;letter-spacing:1.24px">i</span> <span style="width:81.49px;letter-spacing:1.53px">settori</span> <span style="width:127.90px;letter-spacing:1.21px">economici</span> <span style="width:22.85px;letter-spacing:0.58px">e,</span> <span style="width:23.09px;letter-spacing:1.43px">in</span> <span style="width:142.91px;letter-spacing:1.19px">particolare,</span> <span style="width:18.98px;letter-spacing:0.10px">si</span></div>
<div class="ln" style="top:1940.39px"><span style="width:94.41px;letter-spacing:0.48px">osserva</span> <span style="width:21.67px;letter-spacing:0.72px">la</span> <span style="width:66.44px;letter-spacing:1.72px">netta</span> <span style="width:179.15px;letter-spacing:1.20px">predominanza</span> <span style="width:38.31px;letter-spacing:1.21px">del</span> <span style="width:98.51px;letter-spacing:1.65px">petrolio</span> <span style="width:38.31px;letter-spacing:1.21px">nel</span> <span style="width:89.69px;letter-spacing:1.46px">settore</span> <span style="width:38.31px;letter-spacing:1.21px">dei</span> <span style="width:115.30px;letter-spacing:1.42px">trasporti,</span> <span style="width:45.14px;letter-spacing:1.07px">con</span> <span style="width:85.24px;letter-spacing:0.95px">35.326</span> <span style="width:63.08px;letter-spacing:1.34px">ktep,</span> <span style="width:15.22px;letter-spacing:0.76px">e</span> <span style="width:38.31px;letter-spacing:1.21px">del</span> <span style="width:41.02px;letter-spacing:-0.30px">gas</span> <span style="width:104.60px;letter-spacing:1.33px">naturale</span> <span style="width:23.09px;letter-spacing:1.43px">in</span></div>
<div class="ln" style="top:1980.59px"><span style="width:77.54px;letter-spacing:1.36px">quello</span> <span style="width:70.66px;letter-spacing:0.81px">civile,</span> <span style="width:45.14px;letter-spacing:1.07px">con</span> <span style="width:85.24px;letter-spacing:0.95px">21.018</span> <span style="width:63.17px;letter-spacing:1.36px">ktep.</span> <span style="width:14.73px;letter-spacing:0.86px">Il</span> <span style="width:41.02px;letter-spacing:-0.30px">gas</span> <span style="width:104.60px;letter-spacing:1.33px">naturale</span> <span style="width:15.22px;letter-spacing:0.76px">e</span> <span style="width:107.02px;letter-spacing:0.97px">l’energia</span> <span style="width:103.23px;letter-spacing:1.35px">elettrica</span> <span style="width:15.24px;letter-spacing:0.78px">–</span> <span style="width:51.86px;letter-spacing:0.68px">che,</span> <span style="width:166.51px;letter-spacing:1.36px">ricordiamolo,</span> <span style="width:15.22px;letter-spacing:0.76px">è</span> <span style="width:23.09px;letter-spacing:1.43px">in</span> <span style="width:55.79px;letter-spacing:0.94px">gran</span> <span style="width:66.86px;letter-spacing:1.52px">parte</span></div>
<div class="ln" style="top:2020.79px"><span style="width:110.22px;letter-spacing:1.85px">prodotta</span> <span style="width:59.99px;letter-spacing:1.01px">dalle</span> <span style="width:131.56px;letter-spacing:1.32px">rinnovabili</span> <span style="width:15.22px;letter-spacing:0.76px">e</span> <span style="width:37.74px;letter-spacing:1.02px">dal</span> <span style="width:41.02px;letter-spacing:-0.30px">gas</span> <span style="width:104.60px;letter-spacing:1.33px">naturale</span> <span style="width:15.24px;letter-spacing:0.78px">–</span> <span style="width:60.30px;letter-spacing:0.98px">sono</span> <span style="width:116.09px;letter-spacing:1.34px">impiegati</span> <span style="width:188.72px;letter-spacing:1.40px">principalmente</span> <span style="width:38.31px;letter-spacing:1.21px">nei</span> <span style="width:81.49px;letter-spacing:1.53px">settori</span> <span style="width:63.03px;letter-spacing:0.87px">civile</span> <span style="width:15.22px;letter-spacing:0.76px">e</span> <span style="width:139.75px;letter-spacing:1.17px">industriale.</span></div>
<div class="ln" style="top:2060.99px"><span style="width:41.69px;letter-spacing:0.41px">Per</span> <span style="width:89.25px;letter-spacing:1.62px">quanto</span> <span style="width:104.20px;letter-spacing:1.10px">riguarda</span> <span style="width:22.24px;letter-spacing:1.00px">le</span> <span style="width:58.81px;letter-spacing:1.93px">fonti</span> <span style="width:23.09px;letter-spacing:1.43px">di</span> <span style="width:93.25px;letter-spacing:0.93px">energia</span> <span style="width:147.39px;letter-spacing:1.20px">rinnovabile,</span> <span style="width:107.84px;letter-spacing:1.15px">vengono</span> <span style="width:124.29px;letter-spacing:1.28px">impiegate</span> <span style="width:188.72px;letter-spacing:1.40px">principalmente</span> <span style="width:38.31px;letter-spacing:1.21px">nel</span> <span style="width:89.69px;letter-spacing:1.46px">settore</span> <span style="width:63.03px;letter-spacing:0.87px">civile</span> <span style="width:15.22px;letter-spacing:0.76px">e</span></div>
<div class="ln" style="top:2101.19px"><span style="width:38.31px;letter-spacing:1.21px">dei</span> <span style="width:107.66px;letter-spacing:1.53px">trasporti</span> <span style="width:15.22px;letter-spacing:0.76px">e</span> <span style="width:23.09px;letter-spacing:1.43px">in</span> <span style="width:93.64px;letter-spacing:1.64px">minima</span> <span style="width:66.86px;letter-spacing:1.52px">parte</span> <span style="width:161.87px;letter-spacing:1.24px">nell’industria</span> <span style="width:15.22px;letter-spacing:0.76px">e</span> <span style="width:194.26px;letter-spacing:1.14px">nell’agricoltura.</span> <span style="width:7.71px;letter-spacing:0.48px">I</span> <span style="width:152.01px;letter-spacing:1.35px">combustibili</span> <span style="width:72.86px;letter-spacing:0.91px">solidi,</span> <span style="width:78.37px;letter-spacing:1.28px">infine,</span> <span style="width:60.30px;letter-spacing:0.98px">sono</span> <span style="width:116.09px;letter-spacing:1.34px">impiegati</span></div>
<div class="ln" style="top:2141.39px"><span style="width:65.78px;letter-spacing:0.72px">quasi</span> <span style="width:191.86px;letter-spacing:0.90px">esclusivamente</span> <span style="width:169.59px;letter-spacing:1.19px">nell’industria.</span></div>
</div>
<svg width="1654" height="2339" viewBox="0 0 1654 2339" style="opacity:0.115;pointer-events:none">
<defs><mask id="skm" maskUnits="userSpaceOnUse" x="0" y="0" width="1654" height="2339"><rect x="0" y="0" width="1654" height="2339" fill="#fff"/><text transform="translate(142.5,660.4) rotate(-47.2) skewX(-10)" font-size="142" font-weight="bold" fill="#000" stroke="#000" stroke-width="8" stroke-linejoin="round" textLength="505" lengthAdjust="spacingAndGlyphs">SKUOLA</text></mask></defs>
<g id="watermark">
<polygon points="39.9,568.1 495.3,76.6 613.9,215.6 158.5,707.1" fill="#0078bf" mask="url(#skm)"/>
<polygon points="539.6,67.7 698.1,166.4 561,331 402.6,229" fill="#0078bf"/>
<polygon points="544,79.9 683.7,171.9 556.3,316 416.6,224" fill="#ffee00"/>
<text transform="translate(510,301) rotate(-50)" font-size="112" font-style="italic" fill="#0078bf" stroke="#0078bf" stroke-width="3" stroke-linejoin="round">.net</text>
<text transform="translate(196,770) rotate(-44.7)" font-family="'Liberation Serif', serif" font-size="50" font-style="italic" fill="#0078bf" textLength="725" lengthAdjust="spacingAndGlyphs">il paradiso dello studente</text>
</g>
</svg>
</body>
</html>
